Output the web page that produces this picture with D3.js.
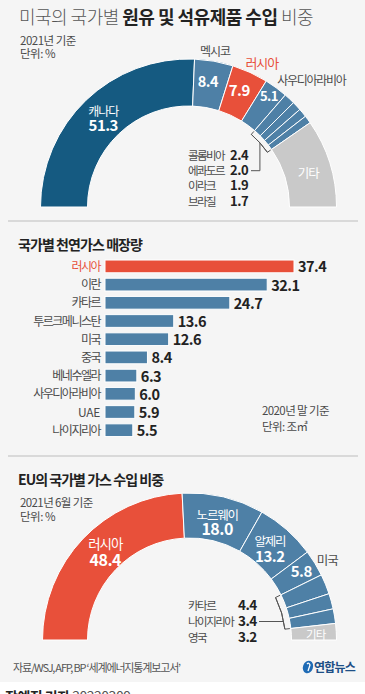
<!DOCTYPE html>
<html><head><meta charset="utf-8">
<script src="https://cdn.jsdelivr.net/npm/d3@7"></script>
<style>
html,body{margin:0;padding:0;background:#fff;}
svg{display:block;}
text{font-family:"Noto Sans CJK KR","Noto Sans",sans-serif;}
</style></head>
<body>
<script>
// ---------- DATA ----------
const usCountries = ["캐나다","멕시코","러시아","사우디아라비아","콜롬비아","에콰도르","이라크","브라질","기타"];
const usValues    = [51.3, 8.4, 7.9, 5.1, 2.4, 2.0, 1.9, 1.7, 19.3];

const gasCountries = ["러시아","이란","카타르","투르크메니스탄","미국","중국","베네수엘라","사우디아라비아","UAE","나이지리아"];
const gasValues    = [37.4, 32.1, 24.7, 13.6, 12.6, 8.4, 6.3, 6.0, 5.9, 5.5];

const euCountries = ["러시아","노르웨이","알제리","미국","카타르","나이지리아","영국","기타"];
const euValues    = [48.4, 18.0, 13.2, 5.8, 4.4, 3.4, 3.2, 3.6];

// ---------- STYLE ----------
const W = 365, H = 694;
const BG = "#f5f5f5", DARK = "#155a81", STEEL = "#4e80a6", RED = "#e8503a", GRAY = "#c9c9c9";
const TXT = "#222", SUB = "#4a4a4a";

const svg = d3.select("body").append("svg").attr("width", W).attr("height", H);
svg.append("rect").attr("width", W).attr("height", H).attr("fill", BG);
svg.append("rect").attr("y", 682).attr("width", W).attr("height", H - 682).attr("fill", "#fff");

function fit(sel, width) {
  sel.attr("letter-spacing", null);
  const n = sel.text().length;
  const len = sel.node().getComputedTextLength();
  sel.attr("letter-spacing", ((width - len) / n).toFixed(2));
}
function txt(x, y, s, o = {}) {
  return svg.append("text").attr("x", x).attr("y", y).text(s)
    .attr("font-size", o.size || 11.5).attr("fill", o.fill || SUB)
    .attr("font-weight", o.weight || 400).attr("text-anchor", o.anchor || "start")
    .attr("letter-spacing", o.ls != null ? o.ls : -1.2);
}
const NUM = -0.5; // letter-spacing for numbers

// ---------- TITLE ----------
const title = svg.append("text").attr("x", 19).attr("y", 24).attr("font-size", 18);
title.append("tspan").text("미국의 국가별 ").attr("fill", "#555").attr("font-weight", 300);
title.append("tspan").text("원유 및 석유제품 수입").attr("fill", TXT).attr("font-weight", 700);
title.append("tspan").text(" 비중").attr("fill", "#555").attr("font-weight", 300);
fit(title, 294);
txt(20, 45, "2021년 기준", {size: 11.5, ls: -0.5});
txt(20, 58, "단위: %", {size: 11.5, ls: -0.5});

// ---------- helpers for semi donuts ----------
function pt(cx, cy, a, r) { return [cx + r * Math.sin(a), cy - r * Math.cos(a)]; }
const pie = d3.pie().sort(null).startAngle(-Math.PI / 2).endAngle(Math.PI / 2);
const mid = d => (d.startAngle + d.endAngle) / 2;
const lineCol = "#555";

// ---------- CHART 1: US imports ----------
{
  const cx = 188.5, cy = 207, ro = 148, ri = 101;
  const arcs = pie(usValues);
  const col = [DARK, STEEL, RED, STEEL, STEEL, STEEL, STEEL, STEEL, GRAY];
  const arc = d3.arc().innerRadius(ri).outerRadius(ro);
  const g = svg.append("g").attr("transform", `translate(${cx},${cy})`);
  g.selectAll("path").data(arcs).join("path").attr("d", arc)
    .attr("fill", (d, i) => col[i]).attr("stroke", "#fff").attr("stroke-width", 1);
  const rm = (ri + ro) / 2;

  // Canada
  let p = pt(cx, cy, mid(arcs[0]), rm);
  txt(p[0] + 1, p[1] - 1, usCountries[0], {size: 12, fill: "#fff", anchor: "middle", ls: -1});
  txt(p[0] + 1, p[1] + 14, usValues[0].toFixed(1), {size: 15, fill: "#fff", weight: 700, anchor: "middle", ls: NUM});
  // Mexico
  p = pt(cx, cy, mid(arcs[1]), rm);
  txt(p[0] - 2, p[1] + 3, usValues[1].toFixed(1), {size: 14.5, fill: "#fff", weight: 700, anchor: "middle", ls: NUM});
  p = pt(cx, cy, mid(arcs[1]), 160);
  txt(p[0] - 1, p[1] + 7, usCountries[1], {size: 12, anchor: "middle", ls: -1});
  // Russia
  p = pt(cx, cy, mid(arcs[2]), rm);
  txt(p[0] - 1, p[1] + 2, usValues[2].toFixed(1), {size: 15, fill: "#fff", weight: 700, anchor: "middle", ls: NUM});
  p = pt(cx, cy, mid(arcs[2]), 162);
  txt(p[0] + 6, p[1] + 8, usCountries[2], {size: 13, fill: RED, anchor: "middle", ls: -1});
  // Saudi
  p = pt(cx, cy, mid(arcs[3]), 136);
  txt(p[0], p[1] + 4, usValues[3].toFixed(1), {size: 13, fill: "#fff", weight: 700, anchor: "middle", ls: NUM});
  p = pt(cx, cy, mid(arcs[3]), 155);
  txt(p[0] - 3, p[1] + 3, usCountries[3], {size: 12, anchor: "start", ls: -1.3});
  // Other
  p = pt(cx, cy, mid(arcs[8]), rm);
  txt(p[0] + 1, p[1] + 8, usCountries[8], {size: 12.5, fill: "#fff", anchor: "middle", ls: -1});

  // legend for small slices
  const rows = [4, 5, 6, 7];
  const rowY = i => 160 + i * 15.2;
  rows.forEach((k, i) => {
    txt(188, rowY(i), usCountries[k], {size: 11.5, ls: -1.6});
    txt(230, rowY(i), usValues[k].toFixed(1), {size: 13, weight: 700, fill: TXT, ls: NUM});
  });
  // bracket
  const a0 = arcs[4].startAngle, a1 = arcs[7].endAngle, rb = 96;
  const bArc = d3.arc().innerRadius(rb).outerRadius(rb).startAngle(a0).endAngle(a1);
  g.append("path").attr("d", bArc()).attr("fill", "none").attr("stroke", lineCol).attr("stroke-width", 1);
  [a0, a1].forEach(a => {
    const q0 = pt(0, 0, a, rb), q1 = pt(0, 0, a, ri - 1);
    g.append("line").attr("x1", q0[0]).attr("y1", q0[1]).attr("x2", q1[0]).attr("y2", q1[1])
      .attr("stroke", lineCol).attr("stroke-width", 1);
  });
  const bm = pt(cx, cy, (a0 + a1) / 2, rb);
  const ly = rowY(1) - 4.5;
  svg.append("path").attr("d", `M${bm[0]},${bm[1]}V${ly}H${251}`)
    .attr("fill", "none").attr("stroke", lineCol).attr("stroke-width", 1);
}

// separator
svg.append("line").attr("x1", 8).attr("x2", 358).attr("y1", 221).attr("y2", 221).attr("stroke", "#cfcfcf").attr("stroke-width", 1.5);

// ---------- CHART 2: gas reserves ----------
{
  const t = txt(18, 250, "국가별 천연가스 매장량", {size: 14, weight: 700, fill: TXT});
  fit(t, 124);
  const x = d3.scaleLinear().domain([0, 37.4]).range([105, 294]);
  const y = d3.scaleBand().domain(gasCountries).range([257.3, 439.3]).paddingInner(0.3).paddingOuter(0.15);
  svg.append("g").selectAll("rect").data(gasCountries).join("rect")
    .attr("x", x(0)).attr("y", d => y(d)).attr("height", y.bandwidth())
    .attr("width", (d, i) => x(gasValues[i]) - x(0))
    .attr("fill", (d, i) => i === 0 ? RED : STEEL)
    .attr("stroke", "#fff").attr("stroke-width", 1);
  gasCountries.forEach((c, i) => {
    const yc = y(c) + y.bandwidth() / 2;
    txt(100, yc + 4.5, c, {size: 12, anchor: "end", fill: i === 0 ? RED : SUB, ls: c === "UAE" ? -0.3 : -1.5});
    txt(x(gasValues[i]) + 4, yc + 6, gasValues[i].toFixed(1), {size: 14.5, weight: 700, fill: TXT, ls: NUM});
  });
  txt(262, 415, "2020년 말 기준", {size: 11.5, ls: -0.6});
  txt(262, 431, "단위: 조㎥", {size: 11.5, ls: -0.6});
}

svg.append("line").attr("x1", 8).attr("x2", 358).attr("y1", 456).attr("y2", 456).attr("stroke", "#cfcfcf").attr("stroke-width", 1.5);

// ---------- CHART 3: EU gas imports ----------
{
  const t = txt(18, 485, "EU의 국가별 가스 수입 비중", {size: 14, weight: 700, fill: TXT});
  fit(t, 145);
  txt(20, 507, "2021년 6월 기준", {size: 11.5, ls: -0.6});
  txt(20, 521, "단위: %", {size: 11.5, ls: -0.5});

  const cx = 189.5, cy = 640, ro = 147, ri = 102;
  const arcs = pie(euValues);
  const col = [RED, STEEL, STEEL, STEEL, STEEL, STEEL, STEEL, GRAY];
  const arc = d3.arc().innerRadius(ri).outerRadius(ro);
  const g = svg.append("g").attr("transform", `translate(${cx},${cy})`);
  g.selectAll("path").data(arcs).join("path").attr("d", arc)
    .attr("fill", (d, i) => col[i]).attr("stroke", "#fff").attr("stroke-width", 1);
  const rm = (ri + ro) / 2;

  let p = pt(cx, cy, mid(arcs[0]), rm);
  txt(p[0] + 6, p[1] - 5, euCountries[0], {size: 13.5, fill: "#fff", anchor: "middle", ls: -1});
  txt(p[0] + 6, p[1] + 12, euValues[0].toFixed(1), {size: 16, fill: "#fff", weight: 700, anchor: "middle", ls: NUM});
  p = pt(cx, cy, mid(arcs[1]), rm);
  txt(p[0] - 1, p[1] + 1, euCountries[1], {size: 12.5, fill: "#fff", anchor: "middle", ls: -1.2});
  txt(p[0] - 1, p[1] + 16, euValues[1].toFixed(1), {size: 16, fill: "#fff", weight: 700, anchor: "middle", ls: NUM});
  p = pt(cx, cy, mid(arcs[2]), rm);
  txt(p[0] - 2, p[1] - 0.5, euCountries[2], {size: 12.5, fill: "#fff", anchor: "middle", ls: -1.2});
  txt(p[0] - 2, p[1] + 15.5, euValues[2].toFixed(1), {size: 15, fill: "#fff", weight: 700, anchor: "middle", ls: NUM});
  p = pt(cx, cy, mid(arcs[3]), 131);
  txt(p[0], p[1] + 5, euValues[3].toFixed(1), {size: 15, fill: "#fff", weight: 700, anchor: "middle", ls: NUM});
  p = pt(cx, cy, mid(arcs[3]), 157);
  txt(p[0] + 4, p[1] + 7, euCountries[3], {size: 12.5, anchor: "middle", ls: -1});
  p = pt(cx, cy, mid(arcs[7]), rm);
  txt(p[0] + 2, p[1] + 6, euCountries[7], {size: 11.5, fill: "#fff", anchor: "middle", ls: -0.8});

  const rows = [4, 5, 6];
  const rowY = i => 610 + i * 16;
  rows.forEach((k, i) => {
    txt(188, rowY(i), euCountries[k], {size: 11.5, ls: -1.5});
    txt(238, rowY(i), euValues[k].toFixed(1), {size: 13.5, weight: 700, fill: TXT, ls: NUM});
  });
  const a0 = arcs[4].startAngle, a1 = arcs[6].endAngle, rb = 96;
  const bArc = d3.arc().innerRadius(rb).outerRadius(rb).startAngle(a0).endAngle(a1);
  g.append("path").attr("d", bArc()).attr("fill", "none").attr("stroke", lineCol).attr("stroke-width", 1);
  [a0, a1].forEach(a => {
    const q0 = pt(0, 0, a, rb), q1 = pt(0, 0, a, ri - 1);
    g.append("line").attr("x1", q0[0]).attr("y1", q0[1]).attr("x2", q1[0]).attr("y2", q1[1])
      .attr("stroke", lineCol).attr("stroke-width", 1);
  });
  const ly = rowY(1) - 4.5;
  const bx = cx + Math.sqrt(rb * rb - (cy - ly) * (cy - ly));
  svg.append("line").attr("x1", 259).attr("x2", bx).attr("y1", ly).attr("y2", ly)
    .attr("stroke", lineCol).attr("stroke-width", 1);
}

// ---------- footer ----------
{
  const s = txt(13, 672, "자료/WSJ, AFP, BP ‘세계에너지통계보고서’", {size: 11, fill: "#555"});
  fit(s, 167);
  svg.append("ellipse").attr("cx", 308).attr("cy", 667).attr("rx", 5).attr("ry", 6.5)
    .attr("transform", "rotate(20,308,667)").attr("fill", "#1f6bb5");
  svg.append("path").attr("d", "M307,664 q2,-2 3,1 l-2,6").attr("fill", "none").attr("stroke", "#fff").attr("stroke-width", 1.3);
  txt(314, 672, "연합뉴스", {size: 12, weight: 700, fill: "#1d4f86", ls: -0.8});
  const by = svg.append("text").attr("x", 5).attr("y", 702).attr("font-size", 14).attr("letter-spacing", -0.5);
  by.append("tspan").text("장예진 기자 ").attr("font-weight", 700).attr("fill", TXT);
  by.append("tspan").text("20220309").attr("fill", "#555");
}
</script>
</body></html>
